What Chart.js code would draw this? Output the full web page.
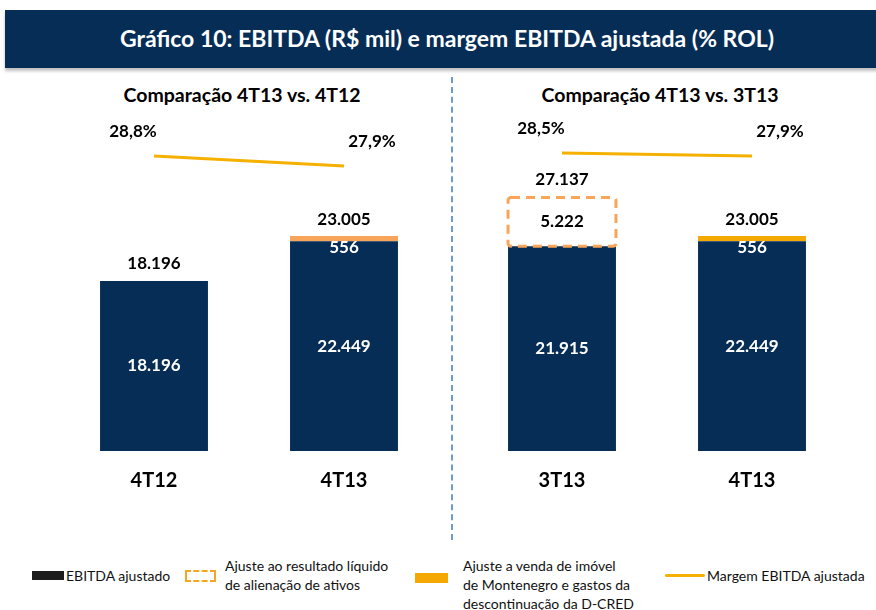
<!DOCTYPE html>
<html>
<head>
<meta charset="utf-8">
<script src="https://cdn.jsdelivr.net/npm/chart.js@4.4.1/dist/chart.umd.min.js"></script>
<style>
  body { margin: 0; width: 876px; height: 610px; background: #fff; font-family: Lato, "Noto Sans", sans-serif; position: relative; overflow: hidden; }
  .banner { position: absolute; left: 5px; top: 10px; width: 880px; height: 58px; background: #062d56; box-shadow: 0 3px 3px rgba(0,0,0,0.25); }
  .banner span { position: absolute; left: 0; width: 884px; top: 14px; text-align: center; color: #fff; font-weight: bold; font-size: 23px; }
  .sub { position: absolute; top: 83px; width: 380px; text-align: center; font-weight: bold; font-size: 19.5px; color: #000; }
  .divider { position: absolute; left: 451px; top: 77px; height: 463px; border-left: 2px dashed #6b9ccd; }
  canvas { position: absolute; }
  .lg { position: absolute; font-size: 14px; color: #111; line-height: 19px; }
</style>
</head>
<body>
<div class="banner"><span>Gráfico 10: EBITDA (R$ mil) e margem EBITDA ajustada (% ROL)</span></div>
<div class="sub" style="left:52px">Comparação 4T13 vs. 4T12</div>
<div class="sub" style="left:470px">Comparação 4T13 vs. 3T13</div>
<div class="divider"></div>
<canvas id="chartLeft" width="380" height="390" style="left:59px; top:110px"></canvas>
<canvas id="chartRight" width="380" height="390" style="left:467px; top:110px"></canvas>

<div style="position:absolute; left:32px; top:571px; width:32px; height:9px; background:#1c1c1c"></div>
<div class="lg" style="left:66px; top:566px">EBITDA ajustado</div>
<div style="position:absolute; left:185px; top:570px; width:27px; height:8px; border:2px dashed #f5a623"></div>
<div class="lg" style="left:225px; top:556px">Ajuste ao resultado líquido<br>de alienação de ativos</div>
<div style="position:absolute; left:415px; top:573px; width:33px; height:10px; background:#f5a800"></div>
<div class="lg" style="left:463px; top:556px">Ajuste a venda de imóvel<br>de Montenegro e gastos da<br>descontinuação da D-CRED</div>
<div style="position:absolute; left:665px; top:574px; width:40px; height:3px; background:#f5b000; border-radius:2px"></div>
<div class="lg" style="left:707px; top:566px">Margem EBITDA ajustada</div>

<script>
const categoriesLeft = ['4T12', '4T13'];
const categoriesRight = ['3T13', '4T13'];
const ebitdaLeft = [18196, 22449];
const ebitdaRight = [21915, 22449];
const alienacaoLeft = [0, 0];
const alienacaoRight = [5222, 0];
const vendaLeft = [0, 556];
const vendaRight = [0, 556];
const totalLeft = [18196, 23005];
const totalRight = [27137, 23005];
const margemLeft = [28.8, 27.9];
const margemRight = [28.5, 27.9];

const navy = '#062d56';
const lightOrange = '#f8a55a';
const gold = '#f5a800';

function fmtNum(v) {
    return String(v).replace(/\B(?=(\d{3})+(?!\d))/g, '.');
}
function fmtPct(v) {
    return v.toFixed(1).replace('.', ',') + '%';
}

// draws value labels, dashed box, category names
const labelsPlugin = {
    id: 'labels',
    afterDatasetsDraw(chart) {
        const ctx = chart.ctx;
        const totals = chart.options.plugins.labels.totals;
        const metaE = chart.getDatasetMeta(0);
        const metaA = chart.getDatasetMeta(1);
        const metaV = chart.getDatasetMeta(2);
        const metaL = chart.getDatasetMeta(3);
        ctx.save();
        ctx.textAlign = 'center';
        ctx.textBaseline = 'middle';
        chart.data.labels.forEach((cat, i) => {
            const e = metaE.data[i];
            ctx.font = 'bold 17px Lato';
            ctx.fillStyle = '#fff';
            ctx.fillText(fmtNum(chart.data.datasets[0].data[i]), e.x, (e.y + e.base) / 2);

            const a = metaA.data[i];
            const aVal = chart.data.datasets[1].data[i];
            let top = e.y;
            if (aVal > 0) {
                ctx.save();
                ctx.strokeStyle = lightOrange;
                ctx.lineWidth = 3;
                ctx.setLineDash([9, 6]);
                ctx.beginPath();
                ctx.roundRect(a.x - a.width / 2, a.y, a.width, a.base - a.y, 3);
                ctx.stroke();
                ctx.restore();
                ctx.fillStyle = '#000';
                ctx.fillText(fmtNum(aVal), a.x, (a.y + a.base) / 2);
                top = Math.min(top, a.y - 1);
            }
            const v = metaV.data[i];
            const vVal = chart.data.datasets[2].data[i];
            if (vVal > 0) {
                ctx.fillStyle = '#fff';
                ctx.fillText(fmtNum(vVal), v.x, v.base + 6);
                top = Math.min(top, v.y);
            }
            ctx.fillStyle = '#000';
            ctx.fillText(fmtNum(totals[i]), e.x, top - 17);

            const p = metaL.data[i];
            ctx.fillText(fmtPct(chart.data.datasets[3].data[i]), p.x + (i === 0 ? -21 : 28), p.y - 24);

            ctx.font = 'bold 20px Lato';
            ctx.fillText(cat, e.x, chart.chartArea.bottom + 30);
        });
        ctx.restore();
    }
};

function makeChart(id, cats, ebitda, alien, venda, totals, margem, vendaColor, y1min, y1max) {
    const ctx = document.getElementById(id).getContext('2d');
    return new Chart(ctx, {
        type: 'bar',
        data: {
            labels: cats,
            datasets: [
                { label: 'EBITDA ajustado', data: ebitda, backgroundColor: navy, stack: 's', yAxisID: 'y' },
                { label: 'Ajuste ao resultado líquido de alienação de ativos', data: alien, backgroundColor: 'rgba(255,255,255,0)', stack: 's', yAxisID: 'y' },
                { label: 'Ajuste a venda de imóvel', data: venda, backgroundColor: vendaColor, stack: 's', yAxisID: 'y' },
                { type: 'line', label: 'Margem EBITDA ajustada', data: margem, borderColor: '#f5b000', borderWidth: 3,
                  pointRadius: 0, yAxisID: 'y1', order: -1 }
            ]
        },
        options: {
            responsive: false,
            animation: false,
            layout: { padding: { top: 0, bottom: 49, left: 0, right: 0 } },
            datasets: { bar: { categoryPercentage: 1, barPercentage: 0.568 } },
            scales: {
                x: { display: false, stacked: true },
                y: { display: false, stacked: true, min: 0, max: 36500 },
                y1: { display: false, min: y1min, max: y1max }
            },
            plugins: {
                legend: { display: false },
                tooltip: { enabled: false },
                labels: { totals: totals }
            }
        },
        plugins: [labelsPlugin]
    });
}

makeChart('chartLeft', categoriesLeft, ebitdaLeft, alienacaoLeft, vendaLeft, totalLeft, margemLeft, lightOrange, 2.25, 32.94);
makeChart('chartRight', categoriesRight, ebitdaRight, alienacaoRight, vendaRight, totalRight, margemRight, gold, -31.1, 37.1);
</script>
</body>
</html>
